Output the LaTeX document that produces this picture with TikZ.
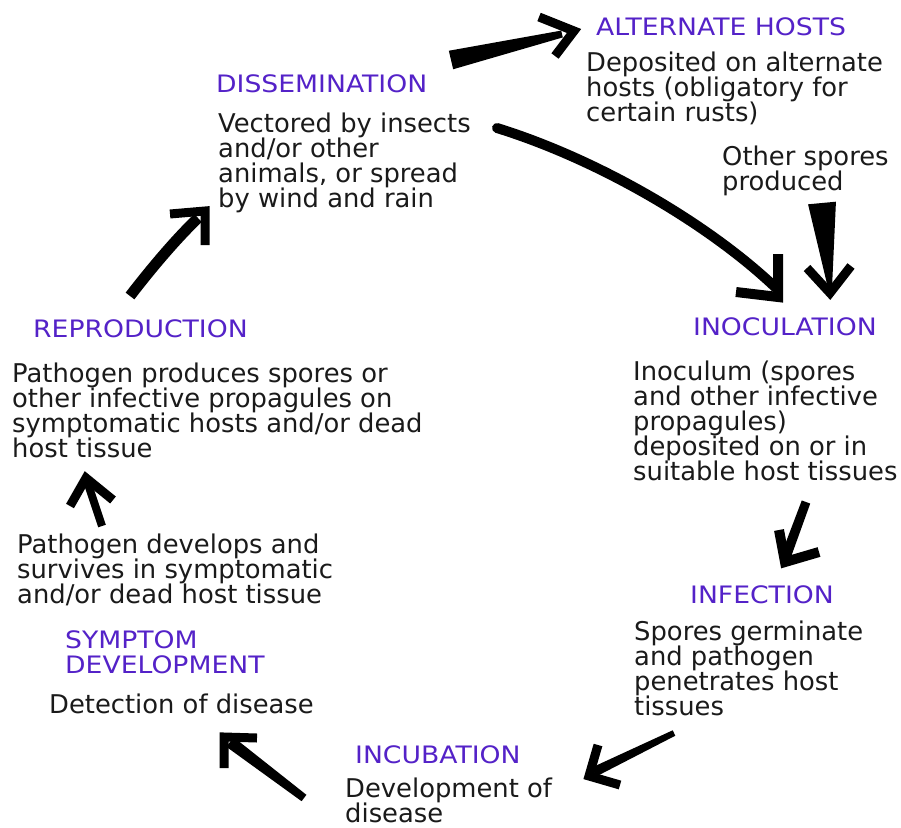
\documentclass[tikz,border=0pt]{standalone}
\usepackage{fontspec}
\usepackage{graphicx}
\setmainfont{DejaVu Sans}
\usetikzlibrary{calc}

\definecolor{stagecol}{RGB}{84,34,200}
\definecolor{inkcol}{RGB}{26,26,26}

\newcommand{\stagefont}{\fontsize{24}{25}\selectfont}
\newcommand{\bodyfont}{\fontsize{25.8}{25}\selectfont}
% stage headings are set a little wider than the running text
\newcommand{\wide}[1]{\scalebox{1.11}[1]{#1}}

% straight tapered shaft: tail, head, half width at tail, half width at head
\newcommand{\wedgeshaft}[4]{%
  \fill[black] ($(#1)!#3!90:(#2)$) -- ($(#2)!#4!-90:(#1)$)
    -- ($(#2)!#4!90:(#1)$) -- ($(#1)!#3!-90:(#2)$) -- cycle;}

% multi-line nodes are placed by the baseline of their last line
\tikzset{
  stage/.style={anchor=base west, inner sep=0pt, text=stagecol, font=\stagefont, align=left},
  body/.style={anchor=base west, inner sep=0pt, text=inkcol, font=\bodyfont, align=left},
  chevron/.style={draw=black, line width=9pt, line join=miter, miter limit=10, line cap=butt},
  brush/.style={draw=black, line width=10pt, line cap=round},
}

\begin{document}
\begin{tikzpicture}[x=1pt, y=-1pt]
\fill[white] (0,0) rectangle (901,827);
\useasboundingbox (0,0) rectangle (901,827);

% ---- stage labels and descriptions ----
\node[stage] (althosts) at (596,35) {\wide{ALTERNATE HOSTS}};
\node[body] (altbody) at (586,121) {Deposited on alternate\\hosts (obligatory for\\certain rusts)};

\node[stage] (diss) at (216,92) {\wide{DISSEMINATION}};
\node[body] (dissbody) at (218,207) {Vectored by insects\\and/or other\\animals, or spread\\by wind and rain};

\node[body] (spores) at (722,190) {Other spores\\produced};

\node[stage] (inoc) at (693,335) {\wide{INOCULATION}};
\node[body] (inocbody) at (633,480) {Inoculum (spores\\and other infective\\propagules)\\deposited on or in\\suitable host tissues};

\node[stage] (infe) at (690,603) {\wide{INFECTION}};
\node[body] (infebody) at (634,715) {Spores germinate\\and pathogen\\penetrates host\\tissues};

\node[stage] (incu) at (355,763) {\wide{INCUBATION}};
\node[body] (incubody) at (345,822) {Development of\\disease};

\node[stage] (symp) at (65,673) {\wide{SYMPTOM}\\\wide{DEVELOPMENT}};
\node[body] (sympbody) at (49,713) {Detection of disease};

\node[body] (patho) at (17,603) {Pathogen develops and\\survives in symptomatic\\and/or dead host tissue};

\node[stage] (repro) at (33,337) {\wide{REPRODUCTION}};
\node[body] (reprobody) at (12,457) {Pathogen produces spores or\\other infective propagules on\\symptomatic hosts and/or dead\\host tissue};

% ---- arrow anchor points ----
\coordinate (altT) at (451,60);   \coordinate (altH) at (562,34);
\coordinate (dissT) at (497,128); \coordinate (dissH) at (776,288);
\coordinate (spT) at (822,203);   \coordinate (spH) at (830,288);
\coordinate (inoT) at (806,502);  \coordinate (inoH) at (786,556);
\coordinate (infT) at (674,733);  \coordinate (infH) at (594,772);
\coordinate (incT) at (304,798);  \coordinate (incH) at (230,742);
\coordinate (patT) at (102,526);  \coordinate (patH) at (88,484);
\coordinate (repT) at (130,296);  \coordinate (repH) at (198,218);

% dissemination -> alternate hosts
\wedgeshaft{altT}{altH}{9.5pt}{3.5pt}
\draw[chevron, line width=9pt] (539,17) -- (574,31) -- (555,56);

% dissemination -> inoculation
\draw[brush] (dissT) .. controls (600,160) and (710,225) .. (dissH);
\draw[chevron, line width=10pt] (778,254) -- (778,297) -- (736,292);

% other spores -> inoculation
\wedgeshaft{spT}{spH}{14pt}{2pt}
\draw[chevron] (807,268) -- (830,293) -- (851,266);

% inoculation -> infection
\wedgeshaft{inoT}{inoH}{4.5pt}{5pt}
\draw[chevron, line width=10pt] (779,530) -- (785,562) -- (819,552);

% infection -> incubation
\wedgeshaft{infT}{infH}{3pt}{5pt}
\draw[chevron] (598,745) -- (589,776) -- (620,785);

% incubation -> symptom development
\wedgeshaft{incT}{incH}{4pt}{6pt}
\draw[chevron] (257,738) -- (224,737) -- (224,768);

% symptom development -> reproduction
\wedgeshaft{patT}{patH}{4pt}{4pt}
\draw[chevron] (70,506) -- (86,478) -- (113,500);

% reproduction -> dissemination
\draw[brush, line width=11pt, line cap=butt] (repT) .. controls (150,270) and (175,240) .. (repH);
\draw[chevron] (170,214) -- (205,211) -- (205,245);
\end{tikzpicture}
\end{document}
